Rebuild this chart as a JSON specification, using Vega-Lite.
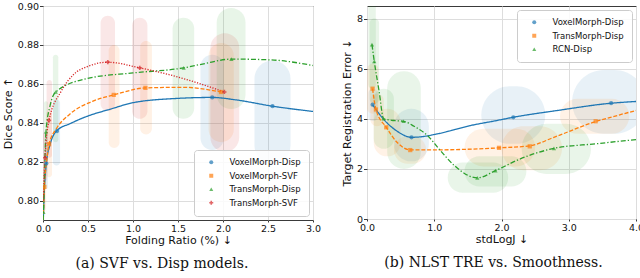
{
  "$schema": "https://vega.github.io/schema/vega-lite/v6.json",
  "padding": {"left": 1, "top": 0, "right": 0, "bottom": 0},
  "background": "white",
  "config": {
    "font": "DejaVu Sans",
    "view": {"stroke": "#3a3a3a", "strokeWidth": 1},
    "axis": {"labelFontSize": 9.5, "titleFontSize": 11, "titleFontWeight": "normal", "labelColor": "#111", "titleColor": "#111", "gridColor": "#dddddd", "domain": false, "tickColor": "#3a3a3a", "tickSize": 3.5, "labelPadding": 1, "labelFlush": false, "labelOverlap": false, "titlePadding": 4},
    "axisX": {"titlePadding": 2, "tickSize": 2},
    "legend": {"labelFontSize": 8.5, "symbolSize": 16, "rowPadding": 4.5, "padding": 8, "strokeColor": "#cccccc", "fillColor": "rgba(255,255,255,0.85)", "cornerRadius": 3, "symbolOffset": 5, "labelOffset": 14, "offset": 4, "labelColor": "#111"},
    "title": {"font": "DejaVu Serif", "fontSize": 14, "fontWeight": "normal", "color": "#111"}
  },
  "datasets": {
    "leftPts": [
      {"s": "VoxelMorph-Disp", "x": 0.037, "y": 0.819},
      {"s": "VoxelMorph-Disp", "x": 0.156, "y": 0.8357},
      {"s": "VoxelMorph-Disp", "x": 1.88, "y": 0.853},
      {"s": "VoxelMorph-Disp", "x": 2.55, "y": 0.8485},
      {"s": "VoxelMorph-SVF", "x": 0.015, "y": 0.807},
      {"s": "VoxelMorph-SVF", "x": 0.067, "y": 0.829},
      {"s": "VoxelMorph-SVF", "x": 0.786, "y": 0.8543},
      {"s": "VoxelMorph-SVF", "x": 1.138, "y": 0.8579},
      {"s": "VoxelMorph-SVF", "x": 1.978, "y": 0.8558},
      {"s": "TransMorph-Disp", "x": 0.005, "y": 0.794},
      {"s": "TransMorph-Disp", "x": 0.033, "y": 0.8354},
      {"s": "TransMorph-Disp", "x": 0.141, "y": 0.8558},
      {"s": "TransMorph-Disp", "x": 1.563, "y": 0.8682},
      {"s": "TransMorph-Disp", "x": 2.093, "y": 0.8727},
      {"s": "TransMorph-SVF", "x": 0.022, "y": 0.822},
      {"s": "TransMorph-SVF", "x": 0.067, "y": 0.8412},
      {"s": "TransMorph-SVF", "x": 0.72, "y": 0.8711},
      {"s": "TransMorph-SVF", "x": 1.075, "y": 0.8682},
      {"s": "TransMorph-SVF", "x": 2.015, "y": 0.8558}
    ],
    "leftCurve": [
      {"s": "VoxelMorph-Disp", "x": 0.003, "y": 0.79},
      {"s": "VoxelMorph-Disp", "x": 0.015, "y": 0.805},
      {"s": "VoxelMorph-Disp", "x": 0.037, "y": 0.819},
      {"s": "VoxelMorph-Disp", "x": 0.08, "y": 0.829},
      {"s": "VoxelMorph-Disp", "x": 0.156, "y": 0.836},
      {"s": "VoxelMorph-Disp", "x": 0.3, "y": 0.8395},
      {"s": "VoxelMorph-Disp", "x": 0.49, "y": 0.8433},
      {"s": "VoxelMorph-Disp", "x": 0.75, "y": 0.847},
      {"s": "VoxelMorph-Disp", "x": 1.0, "y": 0.8503},
      {"s": "VoxelMorph-Disp", "x": 1.49, "y": 0.8525},
      {"s": "VoxelMorph-Disp", "x": 1.88, "y": 0.853},
      {"s": "VoxelMorph-Disp", "x": 2.15, "y": 0.8517},
      {"s": "VoxelMorph-Disp", "x": 2.55, "y": 0.8485},
      {"s": "VoxelMorph-Disp", "x": 3.0, "y": 0.8458},
      {"s": "VoxelMorph-SVF", "x": 0.003, "y": 0.79},
      {"s": "VoxelMorph-SVF", "x": 0.015, "y": 0.807},
      {"s": "VoxelMorph-SVF", "x": 0.04, "y": 0.82},
      {"s": "VoxelMorph-SVF", "x": 0.067, "y": 0.829},
      {"s": "VoxelMorph-SVF", "x": 0.15, "y": 0.837},
      {"s": "VoxelMorph-SVF", "x": 0.3, "y": 0.8445},
      {"s": "VoxelMorph-SVF", "x": 0.55, "y": 0.851},
      {"s": "VoxelMorph-SVF", "x": 0.786, "y": 0.8543},
      {"s": "VoxelMorph-SVF", "x": 1.138, "y": 0.8579},
      {"s": "VoxelMorph-SVF", "x": 1.56, "y": 0.8582},
      {"s": "VoxelMorph-SVF", "x": 1.978, "y": 0.8558},
      {"s": "TransMorph-Disp", "x": 0.002, "y": 0.79},
      {"s": "TransMorph-Disp", "x": 0.005, "y": 0.794},
      {"s": "TransMorph-Disp", "x": 0.033, "y": 0.8354},
      {"s": "TransMorph-Disp", "x": 0.08, "y": 0.849},
      {"s": "TransMorph-Disp", "x": 0.141, "y": 0.8558},
      {"s": "TransMorph-Disp", "x": 0.49, "y": 0.8627},
      {"s": "TransMorph-Disp", "x": 1.0, "y": 0.8656},
      {"s": "TransMorph-Disp", "x": 1.563, "y": 0.8682},
      {"s": "TransMorph-Disp", "x": 1.786, "y": 0.8703},
      {"s": "TransMorph-Disp", "x": 2.093, "y": 0.8727},
      {"s": "TransMorph-Disp", "x": 2.53, "y": 0.8723},
      {"s": "TransMorph-Disp", "x": 3.0, "y": 0.8694},
      {"s": "TransMorph-SVF", "x": 0.003, "y": 0.80},
      {"s": "TransMorph-SVF", "x": 0.022, "y": 0.822},
      {"s": "TransMorph-SVF", "x": 0.067, "y": 0.8412},
      {"s": "TransMorph-SVF", "x": 0.2, "y": 0.856},
      {"s": "TransMorph-SVF", "x": 0.34, "y": 0.8648},
      {"s": "TransMorph-SVF", "x": 0.5, "y": 0.869},
      {"s": "TransMorph-SVF", "x": 0.72, "y": 0.8711},
      {"s": "TransMorph-SVF", "x": 1.075, "y": 0.8682},
      {"s": "TransMorph-SVF", "x": 1.56, "y": 0.8627},
      {"s": "TransMorph-SVF", "x": 2.015, "y": 0.8558}
    ],
    "leftEll": [
      {"s": "VoxelMorph-Disp", "x0": 0.02, "x1": 0.055, "y0": 0.806, "y1": 0.833},
      {"s": "VoxelMorph-Disp", "x0": 0.11, "x1": 0.19, "y0": 0.818, "y1": 0.852},
      {"s": "VoxelMorph-Disp", "x0": 1.75, "x1": 2.01, "y0": 0.826, "y1": 0.875},
      {"s": "VoxelMorph-Disp", "x0": 2.35, "x1": 2.75, "y0": 0.819, "y1": 0.872},
      {"s": "VoxelMorph-SVF", "x0": 0.0, "x1": 0.035, "y0": 0.795, "y1": 0.82},
      {"s": "VoxelMorph-SVF", "x0": 0.035, "x1": 0.1, "y0": 0.812, "y1": 0.846},
      {"s": "VoxelMorph-SVF", "x0": 0.73, "x1": 0.85, "y0": 0.827, "y1": 0.88},
      {"s": "VoxelMorph-SVF", "x0": 1.08, "x1": 1.21, "y0": 0.834, "y1": 0.882},
      {"s": "VoxelMorph-SVF", "x0": 1.84, "x1": 2.12, "y0": 0.83, "y1": 0.881},
      {"s": "TransMorph-Disp", "x0": 0.0, "x1": 0.015, "y0": 0.788, "y1": 0.8},
      {"s": "TransMorph-Disp", "x0": 0.012, "x1": 0.055, "y0": 0.82, "y1": 0.851},
      {"s": "TransMorph-Disp", "x0": 0.11, "x1": 0.17, "y0": 0.83, "y1": 0.875},
      {"s": "TransMorph-Disp", "x0": 1.44, "x1": 1.68, "y0": 0.842, "y1": 0.894},
      {"s": "TransMorph-Disp", "x0": 1.93, "x1": 2.25, "y0": 0.847, "y1": 0.899},
      {"s": "TransMorph-SVF", "x0": 0.0, "x1": 0.045, "y0": 0.81, "y1": 0.835},
      {"s": "TransMorph-SVF", "x0": 0.04, "x1": 0.1, "y0": 0.822, "y1": 0.862},
      {"s": "TransMorph-SVF", "x0": 0.64, "x1": 0.8, "y0": 0.846, "y1": 0.895},
      {"s": "TransMorph-SVF", "x0": 0.99, "x1": 1.16, "y0": 0.842, "y1": 0.894},
      {"s": "TransMorph-SVF", "x0": 1.86, "x1": 2.18, "y0": 0.825, "y1": 0.886}
    ],
    "rightPts": [
      {"s": "VoxelMorph-Disp", "x": 0.083, "y": 4.56},
      {"s": "VoxelMorph-Disp", "x": 0.662, "y": 3.26},
      {"s": "VoxelMorph-Disp", "x": 2.175, "y": 4.06},
      {"s": "VoxelMorph-Disp", "x": 3.63, "y": 4.62},
      {"s": "TransMorph-Disp", "x": 0.083, "y": 5.2},
      {"s": "TransMorph-Disp", "x": 0.133, "y": 4.37},
      {"s": "TransMorph-Disp", "x": 0.286, "y": 3.66},
      {"s": "TransMorph-Disp", "x": 0.643, "y": 2.75},
      {"s": "TransMorph-Disp", "x": 1.963, "y": 2.84},
      {"s": "TransMorph-Disp", "x": 2.42, "y": 2.9},
      {"s": "TransMorph-Disp", "x": 3.4, "y": 3.9},
      {"s": "RCN-Disp", "x": 0.074, "y": 6.96},
      {"s": "RCN-Disp", "x": 0.108, "y": 6.29},
      {"s": "RCN-Disp", "x": 0.247, "y": 4.0},
      {"s": "RCN-Disp", "x": 0.543, "y": 3.9},
      {"s": "RCN-Disp", "x": 1.64, "y": 1.64},
      {"s": "RCN-Disp", "x": 1.91, "y": 1.93},
      {"s": "RCN-Disp", "x": 2.78, "y": 2.82}
    ],
    "rightCurve": [
      {"s": "VoxelMorph-Disp", "x": 0.083, "y": 4.56},
      {"s": "VoxelMorph-Disp", "x": 0.257, "y": 3.95},
      {"s": "VoxelMorph-Disp", "x": 0.45, "y": 3.5},
      {"s": "VoxelMorph-Disp", "x": 0.662, "y": 3.26},
      {"s": "VoxelMorph-Disp", "x": 0.8, "y": 3.28},
      {"s": "VoxelMorph-Disp", "x": 1.05, "y": 3.4},
      {"s": "VoxelMorph-Disp", "x": 1.54, "y": 3.73},
      {"s": "VoxelMorph-Disp", "x": 1.93, "y": 3.93},
      {"s": "VoxelMorph-Disp", "x": 2.175, "y": 4.06},
      {"s": "VoxelMorph-Disp", "x": 2.83, "y": 4.33},
      {"s": "VoxelMorph-Disp", "x": 3.63, "y": 4.62},
      {"s": "VoxelMorph-Disp", "x": 4.0, "y": 4.69},
      {"s": "TransMorph-Disp", "x": 0.083, "y": 5.2},
      {"s": "TransMorph-Disp", "x": 0.133, "y": 4.37},
      {"s": "TransMorph-Disp", "x": 0.286, "y": 3.66},
      {"s": "TransMorph-Disp", "x": 0.45, "y": 3.05},
      {"s": "TransMorph-Disp", "x": 0.643, "y": 2.76},
      {"s": "TransMorph-Disp", "x": 1.05, "y": 2.76},
      {"s": "TransMorph-Disp", "x": 1.963, "y": 2.84},
      {"s": "TransMorph-Disp", "x": 2.42, "y": 2.92},
      {"s": "TransMorph-Disp", "x": 2.78, "y": 3.26},
      {"s": "TransMorph-Disp", "x": 3.4, "y": 3.89},
      {"s": "TransMorph-Disp", "x": 3.72, "y": 4.13},
      {"s": "TransMorph-Disp", "x": 4.0, "y": 4.33},
      {"s": "RCN-Disp", "x": 0.074, "y": 6.96},
      {"s": "RCN-Disp", "x": 0.108, "y": 6.29},
      {"s": "RCN-Disp", "x": 0.18, "y": 5.1},
      {"s": "RCN-Disp", "x": 0.247, "y": 4.0},
      {"s": "RCN-Disp", "x": 0.4, "y": 3.93},
      {"s": "RCN-Disp", "x": 0.543, "y": 3.9},
      {"s": "RCN-Disp", "x": 0.7, "y": 3.7},
      {"s": "RCN-Disp", "x": 0.9, "y": 3.33},
      {"s": "RCN-Disp", "x": 1.07, "y": 2.8},
      {"s": "RCN-Disp", "x": 1.3, "y": 2.13},
      {"s": "RCN-Disp", "x": 1.64, "y": 1.64},
      {"s": "RCN-Disp", "x": 1.91, "y": 1.93},
      {"s": "RCN-Disp", "x": 2.28, "y": 2.4},
      {"s": "RCN-Disp", "x": 2.78, "y": 2.82},
      {"s": "RCN-Disp", "x": 3.4, "y": 3.0},
      {"s": "RCN-Disp", "x": 4.0, "y": 3.17}
    ],
    "rightEll": [
      {"s": "VoxelMorph-Disp", "x0": 0.02, "x1": 0.16, "y0": 3.9, "y1": 5.2},
      {"s": "VoxelMorph-Disp", "x0": 0.4, "x1": 0.92, "y0": 2.3, "y1": 4.4},
      {"s": "VoxelMorph-Disp", "x0": 1.7, "x1": 2.65, "y0": 3.0, "y1": 5.3},
      {"s": "VoxelMorph-Disp", "x0": 3.05, "x1": 4.15, "y0": 3.4, "y1": 5.95},
      {"s": "TransMorph-Disp", "x0": 0.0, "x1": 0.17, "y0": 4.2, "y1": 6.2},
      {"s": "TransMorph-Disp", "x0": 0.05, "x1": 0.25, "y0": 3.7, "y1": 5.0},
      {"s": "TransMorph-Disp", "x0": 0.1, "x1": 0.5, "y0": 2.5, "y1": 4.4},
      {"s": "TransMorph-Disp", "x0": 0.4, "x1": 0.88, "y0": 2.2, "y1": 3.3},
      {"s": "TransMorph-Disp", "x0": 1.45, "x1": 2.5, "y0": 2.1, "y1": 3.6},
      {"s": "TransMorph-Disp", "x0": 2.0, "x1": 2.9, "y0": 1.95, "y1": 3.7},
      {"s": "TransMorph-Disp", "x0": 2.87, "x1": 3.9, "y0": 3.4, "y1": 4.8},
      {"s": "RCN-Disp", "x0": 0.02, "x1": 0.13, "y0": 5.2, "y1": 9.0},
      {"s": "RCN-Disp", "x0": 0.04, "x1": 0.18, "y0": 4.6, "y1": 8.0},
      {"s": "RCN-Disp", "x0": 0.1, "x1": 0.4, "y0": 2.8, "y1": 5.2},
      {"s": "RCN-Disp", "x0": 0.3, "x1": 0.8, "y0": 2.0, "y1": 5.9},
      {"s": "RCN-Disp", "x0": 1.2, "x1": 2.1, "y0": 1.05, "y1": 2.25},
      {"s": "RCN-Disp", "x0": 1.45, "x1": 2.37, "y0": 1.3, "y1": 2.5},
      {"s": "RCN-Disp", "x0": 2.3, "x1": 3.33, "y0": 1.8, "y1": 3.8}
    ]
  },
  "spacing": 54,
  "bounds": "flush",
  "resolve": {
    "scale": {"color": "independent", "fill": "independent", "stroke": "independent", "shape": "independent", "strokeDash": "independent", "x": "independent", "y": "independent"}
  },
  "hconcat": [
    {
      "width": 270,
      "height": 214,
      "title": {"text": "(a) SVF vs. Disp models.", "orient": "bottom", "offset": 11, "dx": -16},
      "layer": [
        {
          "data": {"name": "leftEll"},
          "mark": {"type": "rect", "cornerRadius": 300, "fillOpacity": 0.11, "strokeWidth": 0, "clip": true},
          "encoding": {
            "x": {"field": "x0", "type": "quantitative", "title": "Folding Ratio (%) ↓", "scale": {"domain": [0, 3], "nice": false, "zero": false}, "axis": {"values": [0, 0.5, 1, 1.5, 2, 2.5, 3], "format": ".1f"}},
            "x2": {"field": "x1"},
            "y": {"field": "y0", "type": "quantitative", "title": "Dice Score ↑", "scale": {"domain": [0.79, 0.9], "nice": false, "zero": false}, "axis": {"values": [0.8, 0.82, 0.84, 0.86, 0.88, 0.9], "format": ".2f"}},
            "y2": {"field": "y1"},
            "fill": {"field": "s", "type": "nominal", "scale": {"domain": ["TransMorph-SVF", "TransMorph-Disp", "VoxelMorph-SVF", "VoxelMorph-Disp"], "range": ["#d62728", "#2ca02c", "#ff7f0e", "#1f77b4"]}, "legend": null}
          }
        },
        {
          "data": {"name": "leftCurve"},
          "mark": {"type": "line", "interpolate": "monotone", "strokeWidth": 1.3, "clip": true},
          "encoding": {
            "x": {"field": "x", "type": "quantitative", "title": "Folding Ratio (%) ↓"},
            "y": {"field": "y", "type": "quantitative", "title": "Dice Score ↑"},
            "stroke": {"field": "s", "type": "nominal", "scale": {"domain": ["TransMorph-SVF", "TransMorph-Disp", "VoxelMorph-SVF", "VoxelMorph-Disp"], "range": ["#d62728", "#2ca02c", "#ff7f0e", "#1f77b4"]}, "legend": null},
            "strokeDash": {"field": "s", "type": "nominal", "scale": {"domain": ["TransMorph-SVF", "TransMorph-Disp", "VoxelMorph-SVF", "VoxelMorph-Disp"], "range": [[1.2, 1.5], [5, 2, 1.3, 2], [4, 1.8], [1, 0]]}, "legend": null}
          }
        },
        {
          "data": {"name": "leftPts"},
          "mark": {"type": "point", "filled": true, "size": 18, "clip": true},
          "encoding": {
            "x": {"field": "x", "type": "quantitative", "title": "Folding Ratio (%) ↓"},
            "y": {"field": "y", "type": "quantitative", "title": "Dice Score ↑"},
            "color": {"field": "s", "type": "nominal", "scale": {"domain": ["VoxelMorph-Disp", "VoxelMorph-SVF", "TransMorph-Disp", "TransMorph-SVF"], "range": ["#1f77b4", "#ff7f0e", "#2ca02c", "#d62728"]}, "legend": {"title": null, "orient": "bottom-right"}},
            "shape": {"field": "s", "type": "nominal", "scale": {"domain": ["VoxelMorph-Disp", "VoxelMorph-SVF", "TransMorph-Disp", "TransMorph-SVF"], "range": ["circle", "square", "triangle-up", "cross"]}, "legend": {"title": null, "orient": "bottom-right"}}
          }
        }
      ]
    },
    {
      "width": 269,
      "height": 213,
      "title": {"text": "(b) NLST TRE vs. Smoothness.", "orient": "bottom", "offset": 11, "dx": -8},
      "layer": [
        {
          "data": {"name": "rightEll"},
          "mark": {"type": "rect", "cornerRadius": 300, "fillOpacity": 0.1, "strokeWidth": 0, "clip": true},
          "encoding": {
            "x": {"field": "x0", "type": "quantitative", "title": "stdLogJ ↓", "scale": {"domain": [0, 4], "nice": false, "zero": false}, "axis": {"values": [0, 0.5, 1, 1.5, 2, 2.5, 3, 3.5, 4], "format": ".1f"}},
            "x2": {"field": "x1"},
            "y": {"field": "y0", "type": "quantitative", "title": "Target Registration Error ↓", "scale": {"domain": [0, 8.5], "nice": false, "zero": false}, "axis": {"values": [0, 1, 2, 3, 4, 5, 6, 7, 8], "format": "d"}},
            "y2": {"field": "y1"},
            "fill": {"field": "s", "type": "nominal", "scale": {"domain": ["RCN-Disp", "TransMorph-Disp", "VoxelMorph-Disp"], "range": ["#2ca02c", "#ff7f0e", "#1f77b4"]}, "legend": null}
          }
        },
        {
          "data": {"name": "rightCurve"},
          "mark": {"type": "line", "interpolate": "monotone", "strokeWidth": 1.3, "clip": true},
          "encoding": {
            "x": {"field": "x", "type": "quantitative", "title": "stdLogJ ↓"},
            "y": {"field": "y", "type": "quantitative", "title": "Target Registration Error ↓"},
            "stroke": {"field": "s", "type": "nominal", "scale": {"domain": ["RCN-Disp", "TransMorph-Disp", "VoxelMorph-Disp"], "range": ["#2ca02c", "#ff7f0e", "#1f77b4"]}, "legend": null},
            "strokeDash": {"field": "s", "type": "nominal", "scale": {"domain": ["RCN-Disp", "TransMorph-Disp", "VoxelMorph-Disp"], "range": [[5, 2, 1.3, 2], [4, 1.8], [1, 0]]}, "legend": null}
          }
        },
        {
          "data": {"name": "rightPts"},
          "mark": {"type": "point", "filled": true, "size": 18, "clip": true},
          "encoding": {
            "x": {"field": "x", "type": "quantitative", "title": "stdLogJ ↓"},
            "y": {"field": "y", "type": "quantitative", "title": "Target Registration Error ↓"},
            "color": {"field": "s", "type": "nominal", "scale": {"domain": ["VoxelMorph-Disp", "TransMorph-Disp", "RCN-Disp"], "range": ["#1f77b4", "#ff7f0e", "#2ca02c"]}, "legend": {"title": null, "orient": "top-right"}},
            "shape": {"field": "s", "type": "nominal", "scale": {"domain": ["VoxelMorph-Disp", "TransMorph-Disp", "RCN-Disp"], "range": ["circle", "square", "triangle-up"]}, "legend": {"title": null, "orient": "top-right"}}
          }
        }
      ]
    }
  ]
}
